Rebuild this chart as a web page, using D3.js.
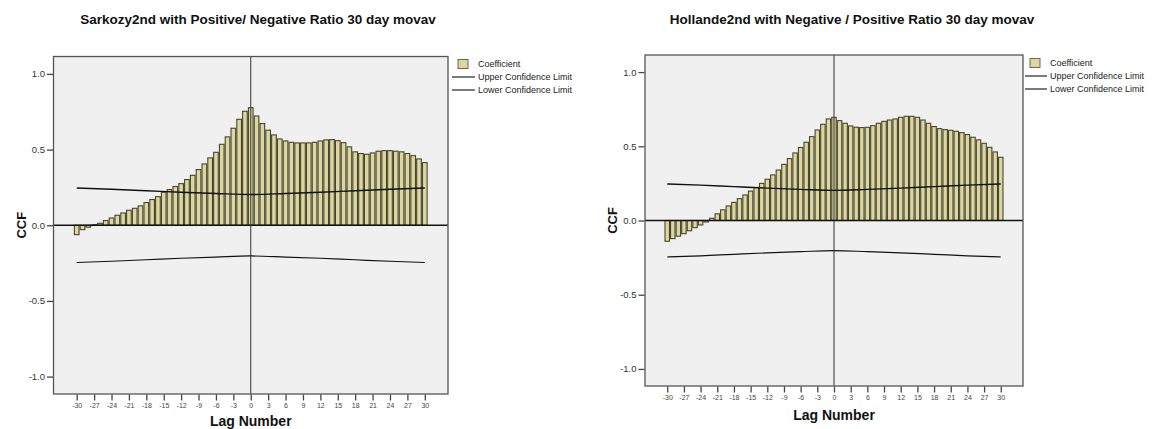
<!DOCTYPE html>
<html>
<head>
<meta charset="utf-8">
<script src="https://cdn.jsdelivr.net/npm/d3@7"></script>
<style>
  html, body { margin: 0; padding: 0; background: #fff; }
  svg { display: block; font-family: "Liberation Sans", Arial, sans-serif; }
</style>
</head>
<body>
<svg id="chart" width="1164" height="429"></svg>
<script>
// ---------------- DATA ----------------
const lags = d3.range(-30, 31); // lag numbers -30..30

const sarkozyTitle = "Sarkozy2nd with Positive/ Negative Ratio 30 day movav";
const sarkozyCCF = [
  -0.062, -0.029, -0.013, 0.004, 0.013, 0.031, 0.048, 0.066, 0.081, 0.099,
   0.112,  0.128,  0.150, 0.170, 0.189, 0.218, 0.236, 0.256, 0.275, 0.302,
   0.330,  0.368,  0.405, 0.445, 0.482, 0.535, 0.584, 0.641, 0.700, 0.753,
   0.777,
   0.722,  0.672,  0.628, 0.597, 0.570, 0.557, 0.548, 0.544, 0.544, 0.544,
   0.548,  0.557,  0.564, 0.566, 0.559, 0.546, 0.518, 0.485, 0.474, 0.469,
   0.478,  0.489,  0.493, 0.493, 0.489, 0.485, 0.474, 0.460, 0.438, 0.414
];

const hollandeTitle = "Hollande2nd with Negative / Positive Ratio 30 day movav";
const hollandeCCF = [
  -0.140, -0.122, -0.106, -0.089, -0.069, -0.048, -0.030, -0.010, 0.015, 0.045,
   0.072,  0.098,  0.122,  0.147,  0.172,  0.198,  0.222,  0.250, 0.278, 0.307,
   0.340,  0.378,  0.417,  0.455,  0.492,  0.527,  0.565,  0.610, 0.648, 0.684,
   0.695,
   0.673,  0.655,  0.637,  0.628,  0.626,  0.628,  0.639,  0.655, 0.668, 0.677,
   0.684,  0.695,  0.702,  0.702,  0.695,  0.677,  0.655,  0.633, 0.619, 0.612,
   0.608,  0.601,  0.592,  0.579,  0.561,  0.543,  0.520,  0.493, 0.462, 0.426
];

// confidence limits read at selected lags
const confLags  = [-30, -24, -18, -12, -6, 0, 6, 12, 18, 24, 30];
const upperConf = [0.246, 0.238, 0.228, 0.218, 0.210, 0.203, 0.210, 0.218, 0.228, 0.238, 0.246];
const lowerConf = [-0.246, -0.238, -0.228, -0.218, -0.210, -0.203, -0.210, -0.218, -0.228, -0.238, -0.246];

const yTicks = [-1.0, -0.5, 0.0, 0.5, 1.0];
const xTicks = d3.range(-30, 31, 3);
const legendLabels = ["Coefficient", "Upper Confidence Limit", "Lower Confidence Limit"];
const yLabel = "CCF";
const xLabel = "Lag Number";

// ---------------- DRAWING ----------------
const svg = d3.select("#chart");
const BAR_FILL = "#dcd7a0";
const BAR_STROKE = "#48452f";

function drawChart(opt) {
  const { title, values, frame, titleX, legend, clipRight, xLabelY } = opt;
  const g = svg.append("g");

  const x = d3.scaleLinear().domain([-34, 34]).range([frame.left, frame.right]);
  const y = d3.scaleLinear().domain([-1.115, 1.115]).range([frame.bottom, frame.top]);
  const step = x(1) - x(0);
  const bw = step * 0.8;

  // title
  g.append("text")
    .attr("x", titleX).attr("y", 24)
    .attr("text-anchor", "middle")
    .attr("font-size", 13.5).attr("font-weight", "bold").attr("fill", "#111")
    .text(title);

  // plot background
  g.append("rect")
    .attr("x", frame.left).attr("y", frame.top)
    .attr("width", frame.right - frame.left).attr("height", frame.bottom - frame.top)
    .attr("fill", "#f0f0f0");

  // bars
  g.append("g").selectAll("rect")
    .data(lags.map((l, i) => ({ lag: l, v: values[i] })))
    .join("rect")
    .attr("x", d => x(d.lag) - bw / 2)
    .attr("y", d => y(Math.max(0, d.v)))
    .attr("width", bw)
    .attr("height", d => Math.abs(y(d.v) - y(0)))
    .attr("fill", BAR_FILL)
    .attr("stroke", BAR_STROKE)
    .attr("stroke-width", 1.1);

  // vertical reference line at lag 0
  g.append("line")
    .attr("x1", x(0)).attr("x2", x(0))
    .attr("y1", frame.top).attr("y2", frame.bottom)
    .attr("stroke", "#333").attr("stroke-width", 1);

  // horizontal zero line
  g.append("line")
    .attr("x1", frame.left).attr("x2", frame.right)
    .attr("y1", y(0)).attr("y2", y(0))
    .attr("stroke", "#111").attr("stroke-width", 1.5);

  // confidence lines
  const line = d3.line()
    .x((d, i) => x(confLags[i]))
    .y(d => y(d))
    .curve(d3.curveMonotoneX);
  g.append("path").attr("d", line(upperConf))
    .attr("fill", "none").attr("stroke", "#111").attr("stroke-width", 1.4);
  g.append("path").attr("d", line(lowerConf))
    .attr("fill", "none").attr("stroke", "#111").attr("stroke-width", 1.2);

  // frame
  g.append("rect")
    .attr("x", frame.left).attr("y", frame.top)
    .attr("width", frame.right - frame.left).attr("height", frame.bottom - frame.top)
    .attr("fill", "none").attr("stroke", "#555").attr("stroke-width", 1.3);

  // y axis
  const yAxis = g.append("g")
    .attr("transform", `translate(${frame.left - 0.5},0)`)
    .call(d3.axisLeft(y).tickValues(yTicks).tickSize(6).tickPadding(2).tickFormat(d => d.toFixed(1)));
  yAxis.select(".domain").remove();
  yAxis.selectAll(".tick line").attr("stroke", "#444").attr("stroke-width", 1.3);
  yAxis.selectAll(".tick text").attr("font-size", 9.5).attr("fill", "#333")
    .attr("font-family", "'Liberation Sans', Arial, sans-serif");

  // x axis
  const xAxis = g.append("g")
    .attr("transform", `translate(0,${frame.bottom + 0.5})`)
    .call(d3.axisBottom(x).tickValues(xTicks).tickSize(6).tickPadding(3).tickFormat(d => String(d)));
  xAxis.select(".domain").remove();
  xAxis.selectAll(".tick line").attr("stroke", "#444").attr("stroke-width", 1.3);
  xAxis.selectAll(".tick text").attr("font-size", 7).attr("fill", "#444")
    .attr("font-family", "'Liberation Sans', Arial, sans-serif");

  // axis titles
  g.append("text")
    .attr("x", (frame.left + frame.right) / 2).attr("y", xLabelY)
    .attr("text-anchor", "middle")
    .attr("font-size", 14).attr("font-weight", "bold").attr("fill", "#111")
    .text(xLabel);
  g.append("text")
    .attr("transform", `translate(${frame.left - 28},${(frame.top + frame.bottom) / 2}) rotate(-90)`)
    .attr("text-anchor", "middle")
    .attr("font-size", 13).attr("font-weight", "bold").attr("fill", "#111")
    .text(yLabel);

  // legend
  const clipId = "clip" + Math.round(frame.left);
  svg.append("clipPath").attr("id", clipId)
    .append("rect").attr("x", legend.x - 10).attr("y", 0)
    .attr("width", clipRight - legend.x + 10).attr("height", 150);
  const lg = g.append("g").attr("clip-path", `url(#${clipId})`);
  lg.append("rect")
    .attr("x", legend.sqX).attr("y", legend.rows[0] - 4.5)
    .attr("width", 10).attr("height", 9)
    .attr("fill", BAR_FILL).attr("stroke", "#6b6850").attr("stroke-width", 1);
  [1, 2].forEach(i => {
    lg.append("line")
      .attr("x1", legend.x).attr("x2", legend.textX - 3)
      .attr("y1", legend.rows[i]).attr("y2", legend.rows[i])
      .attr("stroke", "#222").attr("stroke-width", 1.2);
  });
  legendLabels.forEach((t, i) => {
    lg.append("text")
      .attr("x", legend.textX).attr("y", legend.rows[i] + 3.2)
      .attr("font-size", 9).attr("fill", "#222")
      .text(t);
  });
}

drawChart({
  title: sarkozyTitle,
  values: sarkozyCCF,
  titleX: 258,
  frame: { left: 53.5, right: 448, top: 56.5, bottom: 394 },
  legend: { x: 452, sqX: 458, textX: 478, rows: [64, 77, 90] },
  clipRight: 586,
  xLabelY: 426
});

drawChart({
  title: hollandeTitle,
  values: hollandeCCF,
  titleX: 852,
  frame: { left: 645, right: 1023, top: 55, bottom: 386 },
  legend: { x: 1025, sqX: 1030, textX: 1050, rows: [63, 76, 89] },
  clipRight: 1164,
  xLabelY: 420
});
</script>
</body>
</html>
